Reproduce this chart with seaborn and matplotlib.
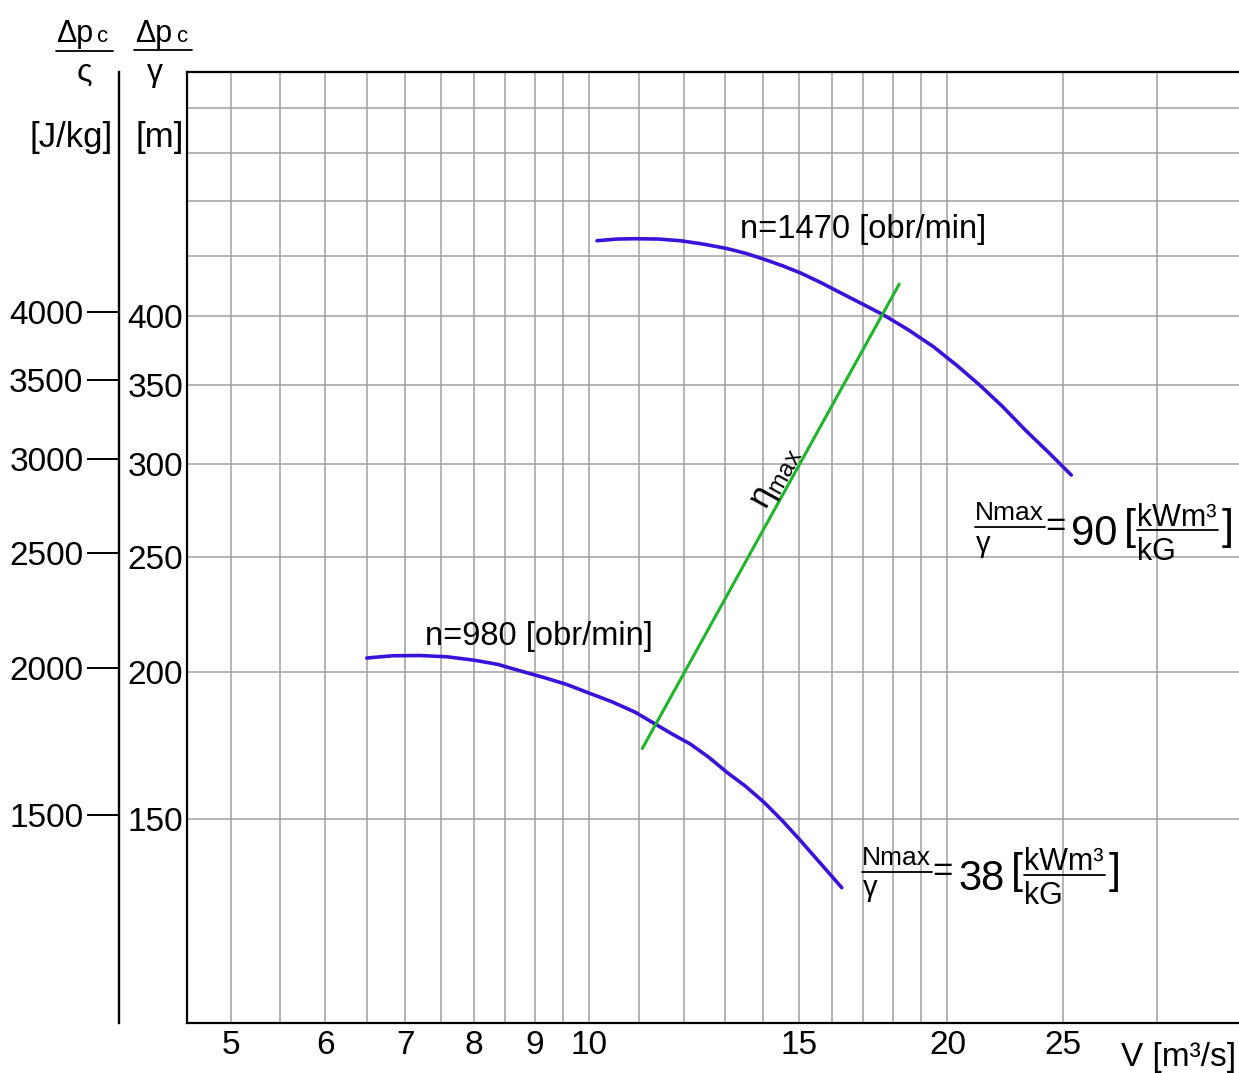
import numpy as np
import pandas as pd
import seaborn as sns
import matplotlib.pyplot as plt
from matplotlib.lines import Line2D
from matplotlib.ticker import NullLocator

# values: V [m3/s] and dp/gamma [m]
v_1470 = [10.15, 10.55, 10.93, 11.43, 11.95, 12.49, 13.05, 13.53, 14.02, 14.53, 15.05, 15.66,
          16.30, 16.97, 17.66, 18.54, 19.47, 20.36, 21.29, 22.26, 23.26, 24.32, 25.42]
h_1470 = [463.2, 464.7, 465.0, 464.7, 463.1, 460.0, 456.2, 452.0, 446.8, 441.2, 435.0, 426.8,
          418.0, 409.4, 401.0, 389.4, 376.7, 363.4, 349.6, 335.2, 320.2, 306.7, 293.4]

v_980 = [6.50, 6.83, 7.20, 7.59, 8.01, 8.37, 8.75, 9.15, 9.57, 10.0, 10.45, 10.93,
         11.32, 11.73, 12.16, 12.60, 13.05, 13.53, 14.02, 14.53, 15.05, 15.66, 16.30]
h_980 = [205.4, 206.3, 206.4, 205.9, 204.5, 202.9, 200.3, 197.8, 195.1, 191.8, 188.6, 184.8,
         181.0, 177.2, 173.7, 169.3, 164.4, 160.0, 155.1, 149.6, 143.9, 137.5, 131.3]

v_eta = [11.08, 18.22]
h_eta = [172.2, 425.7]

x_grid = [5, 5.5, 6, 6.5, 7, 7.5, 8, 8.5, 9, 9.5, 10, 11, 12, 13, 14, 15, 16, 17, 18, 19, 20, 25, 30]
x_labels = ['5', '', '6', '', '7', '', '8', '', '9', '', '10', '', '', '', '', '15', '', '', '', '', '20', '25', '']
y_grid = [150, 200, 250, 300, 350, 400, 450, 500, 550, 600]
y_labels = ['150', '200', '250', '300', '350', '400', '', '', '', '']
y_ticks_jkg = [1500, 2000, 2500, 3000, 3500, 4000]

BLUE = '#3b12d9'
GREEN = '#1fb52a'
GRID = '#a0a0a0'

sns.set_theme(style='white', rc={'axes.edgecolor': 'black', 'text.color': 'black',
                                 'xtick.color': 'black', 'ytick.color': 'black'})
FONT = ['Liberation Sans', 'DejaVu Sans']
plt.rcParams['font.family'] = FONT
plt.rcParams['mathtext.fontset'] = 'custom'
plt.rcParams['mathtext.rm'] = 'Liberation Sans'
plt.rcParams['mathtext.it'] = 'Liberation Sans'

W, H = 1239, 1073
fig = plt.figure(figsize=(W / 100, H / 100), dpi=100)
fig.patch.set_facecolor('white')
ax = fig.add_axes([187.4 / W, 1 - 1023.3 / H, 1 - 187.4 / W, (1023.3 - 72.4) / H])
ax.set_xscale('log')
ax.set_yscale('log')

sns.lineplot(data=pd.DataFrame({'V': v_1470, 'h': h_1470}), x='V', y='h', ax=ax,
             color=BLUE, linewidth=2.6)
sns.lineplot(data=pd.DataFrame({'V': v_980, 'h': h_980}), x='V', y='h', ax=ax,
             color=BLUE, linewidth=2.6)
sns.lineplot(x=v_eta, y=h_eta, ax=ax, color=GREEN, linewidth=2.2)

ax.set_xlim(4.593, 35.17)
ax.set_ylim(100.8, 643)
ax.set_xlabel('')
ax.set_ylabel('')
ax.set_xticks(x_grid)
ax.set_xticklabels(x_labels)
ax.set_yticks(y_grid)
ax.set_yticklabels(y_labels)
ax.xaxis.set_minor_locator(NullLocator())
ax.yaxis.set_minor_locator(NullLocator())
ax.tick_params(axis='both', length=0, labelsize=24)
ax.tick_params(axis='x', pad=5)
ax.tick_params(axis='y', pad=3)
ax.set_axisbelow(True)
ax.grid(True, color=GRID, linewidth=1.1)
ax.spines['right'].set_visible(False)
for s in ['left', 'bottom', 'top']:
    ax.spines[s].set_linewidth(1.6)
    ax.spines[s].set_color('black')

# second scale in J/kg on the left (its ticks sit a little above the m grid)
sec = ax.secondary_yaxis(-68 / 1052, functions=(lambda v: v * 9.92, lambda v: v / 9.92))
sec.set_ticks(y_ticks_jkg, labels=[str(t) for t in y_ticks_jkg])
sec.yaxis.set_minor_locator(NullLocator())
sec.tick_params(axis='y', direction='out', length=23, width=1.4, pad=3, labelsize=24)
sec.spines['left'].set_linewidth(1.7)


def put(x, y, s, size, **kw):
    fig.text(x / W, 1 - y / H, s, fontsize=size, va=kw.pop('va', 'baseline'), **kw)


def bar(x0, x1, y, lw=1.3):
    fig.add_artist(Line2D([x0 / W, x1 / W], [1 - y / H, 1 - y / H], color='black',
                          lw=lw, transform=fig.transFigure))


# axis titles top left
put(56, 42, 'Δp', 22)
put(97, 42, 'c', 16)
bar(56, 113, 51)
put(84, 81, 'ς', 23, ha='center')
put(135, 42, 'Δp', 22)
put(177, 42, 'c', 16)
bar(134, 192, 50)
put(155, 81, 'γ', 23, ha='center')
put(29, 147, '[J/kg]', 25)
put(135, 147, '[m]', 25)

put(1121, 1066, 'V [m³/s]', 24)

put(740, 238, 'n=1470 [obr/min]', 23.5)
put(425, 645, 'n=980 [obr/min]', 23.5)

put(776, 478, r'$\mathrm{η_{max}}$', 25, ha='center', va='center',
    rotation=61, rotation_mode='anchor')


def nmax_label(x0, yb, value):
    put(x0, yb - 7, 'Nmax', 19)
    bar(x0, x0 + 70, yb)
    put(x0 + 8.5, yb + 24.5, 'γ', 21, ha='center')
    put(x0 + 80, yb + 9, '=', 25, ha='center')
    put(x0 + 96, yb + 17.5, value, 30)
    put(x0 + 149, yb + 11.5, '[', 31)
    put(x0 + 162, yb - 1.5, 'kWm³', 22)
    bar(x0 + 162, x0 + 243, yb + 2.5)
    put(x0 + 162, yb + 32.5, 'kG', 22)
    put(x0 + 247, yb + 11.5, ']', 31)


nmax_label(975, 527.5, '90')
nmax_label(862, 872, '38')

fig.savefig('out.png', dpi=100)
